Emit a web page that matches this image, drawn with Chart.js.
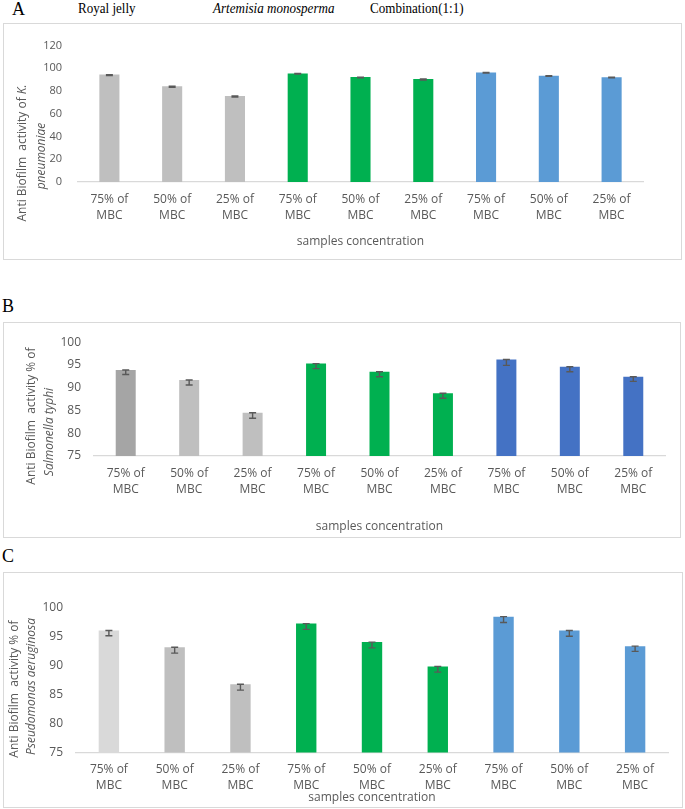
<!DOCTYPE html>
<html>
<head>
<meta charset="utf-8">
<script src="https://cdn.jsdelivr.net/npm/chart.js@4.4.1/dist/chart.umd.min.js"></script>
<style>
  body { margin: 0; background: #fff; width: 685px; height: 809px; position: relative; overflow: hidden; font-family: "Liberation Serif", "Times New Roman", serif; }
  .letter { position: absolute; font-size: 18px; line-height: 1; color: #000; }
  .head { position: absolute; top: 1px; font-size: 15px; line-height: 1; white-space: nowrap; transform-origin: left top; transform: scaleX(0.87); color: #000; }
  .box { position: absolute; border: 1px solid #d9d9d9; box-sizing: border-box; pointer-events: none; }
  canvas { position: absolute; }
</style>
</head>
<body>
<div class="letter" style="left:12px;top:0px">A</div>
<div class="head" style="left:78px">Royal jelly</div>
<div class="head" style="left:213px;font-style:italic">Artemisia monosperma</div>
<div class="head" style="left:370px">Combination(1:1)</div>
<div class="letter" style="left:2px;top:297px">B</div>
<div class="letter" style="left:2px;top:547px">C</div>

<div class="box" style="left:3px;top:23px;width:679px;height:237px"></div>
<canvas id="chartA" width="679" height="237" style="left:3px;top:23px"></canvas>
<div class="box" style="left:3px;top:322px;width:678px;height:216px"></div>
<canvas id="chartB" width="678" height="216" style="left:3px;top:322px"></canvas>
<div class="box" style="left:3px;top:572px;width:680px;height:236px"></div>
<canvas id="chartC" width="680" height="236" style="left:3px;top:572px"></canvas>

<script>
// categories (x tick labels)
const categories = [
  ["75% of", "MBC"], ["50% of", "MBC"], ["25% of", "MBC"],
  ["75% of", "MBC"], ["50% of", "MBC"], ["25% of", "MBC"],
  ["75% of", "MBC"], ["50% of", "MBC"], ["25% of", "MBC"]
];

// A: K. pneumoniae
const kPneumoniae = [94.5, 84.2, 75.6, 95.5, 92.3, 90.6, 96.3, 93.5, 92.2];
const kPneumoniaeErr = [0.8, 0.8, 0.8, 0.6, 0.7, 0.8, 0.5, 0.5, 0.6];
// B: Salmonella typhi
const sTyphi = [93.9, 91.7, 84.5, 95.3, 93.5, 88.8, 96.2, 94.6, 92.4];
const sTyphiErr = [1.0, 1.1, 1.2, 1.1, 1.1, 1.1, 1.3, 1.1, 1.0];
// C: Pseudomonas aeruginosa
const pAeruginosa = [96.1, 93.2, 86.8, 97.3, 94.1, 89.9, 98.5, 96.1, 93.4];
const pAeruginosaErr = [0.9, 1.0, 1.0, 1.0, 1.0, 1.0, 1.0, 1.0, 0.9];

const GREEN = "#00B050";
const TEXT = "#595959";
const FONT = "'Open Sans', sans-serif";

// error bars (minus direction) + custom axis titles
const extras = {
  id: "extras",
  afterDatasetsDraw(chart, args, opts) {
    const ctx = chart.ctx;
    const y = chart.scales.y;
    const meta = chart.getDatasetMeta(0);
    ctx.save();
    ctx.strokeStyle = "#595959";
    ctx.lineWidth = 1.4;
    meta.data.forEach((bar, i) => {
      const v = opts.values[i];
      const e = opts.errors[i];
      const y1 = y.getPixelForValue(v);
      const y2 = y.getPixelForValue(v - e);
      ctx.beginPath();
      ctx.moveTo(bar.x, y1); ctx.lineTo(bar.x, y2);
      ctx.moveTo(bar.x - 3.5, y1); ctx.lineTo(bar.x + 3.5, y1);
      ctx.moveTo(bar.x - 3.5, y2); ctx.lineTo(bar.x + 3.5, y2);
      ctx.stroke();
    });
    ctx.restore();
  },
  afterDraw(chart, args, opts) {
    const ctx = chart.ctx;
    const area = chart.chartArea;
    ctx.save();
    ctx.fillStyle = TEXT;
    ctx.textBaseline = "middle";
    // x title
    ctx.font = "12px " + FONT;
    ctx.textAlign = "center";
    ctx.fillText("samples concentration", (area.left + area.right) / 2, opts.xTitleY);
    // y title, rotated, mixed italic
    ctx.textAlign = "left";
    opts.yTitle.forEach(line => {
      let total = 0;
      line.parts.forEach(p => {
        ctx.font = (p.italic ? "italic " : "") + "12px " + FONT;
        total += ctx.measureText(p.t).width;
      });
      ctx.save();
      ctx.translate(line.x, line.y);
      ctx.rotate(-Math.PI / 2);
      let pos = -total / 2;
      line.parts.forEach(p => {
        ctx.font = (p.italic ? "italic " : "") + "12px " + FONT;
        ctx.fillText(p.t, pos, 0);
        pos += ctx.measureText(p.t).width;
      });
      ctx.restore();
    });
    ctx.restore();
  }
};

function makePanel(id, values, errors, colors, p) {
  const canvas = document.getElementById(id);
  return new Chart(canvas.getContext("2d"), {
    type: "bar",
    data: {
      labels: categories,
      datasets: [{
        data: values,
        backgroundColor: colors,
        borderWidth: 0,
        barPercentage: p.barPct,
        categoryPercentage: 1
      }]
    },
    options: {
      responsive: false,
      animation: false,
      layout: { padding: { top: p.area.top, right: canvas.width - p.area.right, left: 0, bottom: 0 } },
      plugins: {
        legend: { display: false },
        tooltip: { enabled: false },
        extras: { values: values, errors: errors, xTitleY: p.xTitleY, yTitle: p.yTitle }
      },
      scales: {
        x: {
          grid: { display: false, drawTicks: false },
          border: { display: true, color: "#D9D9D9", width: 1.3 },
          ticks: { color: TEXT, padding: 9.5, maxRotation: 0, autoSkip: false,
                   font: { family: FONT, size: 12, lineHeight: 1.33 } },
          afterFit: s => { s.height = canvas.height - p.area.bottom; }
        },
        y: {
          min: p.min, max: p.max,
          grid: { display: false, drawTicks: false },
          border: { display: false },
          ticks: { stepSize: p.step, color: TEXT, padding: p.tickPad,
                   font: { family: FONT, size: p.tickSize } },
          afterFit: s => { s.width = p.area.left; }
        }
      }
    },
    plugins: [extras]
  });
}

const grayA = ["#BFBFBF", "#BFBFBF", "#BFBFBF"];
const greens = [GREEN, GREEN, GREEN];

makePanel("chartA", kPneumoniae, kPneumoniaeErr,
  grayA.concat(greens, ["#5B9BD5", "#5B9BD5", "#5B9BD5"]), {
    area: { left: 75, right: 640, top: 8, bottom: 159 },
    min: 0, max: 120, step: 20, tickPad: 16, tickSize: 11, barPct: 0.32,
    xTitleY: 219,
    yTitle: [
      { x: 20, y: 130, parts: [{ t: "Anti Biofilm  activity of " }, { t: "K.", italic: true }] },
      { x: 39, y: 133, parts: [{ t: "pneumoniae", italic: true }] }
    ]
  });

makePanel("chartB", sTyphi, sTyphiErr,
  ["#A5A5A5", "#BFBFBF", "#BFBFBF"].concat(greens, ["#4472C4", "#4472C4", "#4472C4"]), {
    area: { left: 91, right: 662, top: 16, bottom: 134 },
    min: 75, max: 100, step: 5, tickPad: 13, tickSize: 12, barPct: 0.315,
    xTitleY: 205,
    yTitle: [
      { x: 29, y: 94, parts: [{ t: "Anti Biofilm  activity % of" }] },
      { x: 47, y: 110, parts: [{ t: "Salmonella typhi", italic: true }] }
    ]
  });

makePanel("chartC", pAeruginosa, pAeruginosaErr,
  ["#D9D9D9", "#BFBFBF", "#BFBFBF"].concat(greens, ["#5B9BD5", "#5B9BD5", "#5B9BD5"]), {
    area: { left: 73, right: 665, top: 36, bottom: 180.5 },
    min: 75, max: 100, step: 5, tickPad: 13, tickSize: 12, barPct: 0.31,
    xTitleY: 226,
    yTitle: [
      { x: 12, y: 117, parts: [{ t: "Anti Biofilm  activity % of" }] },
      { x: 29, y: 114.5, parts: [{ t: "Pseudomonas aeruginosa", italic: true }] }
    ]
  });
</script>
</body>
</html>
